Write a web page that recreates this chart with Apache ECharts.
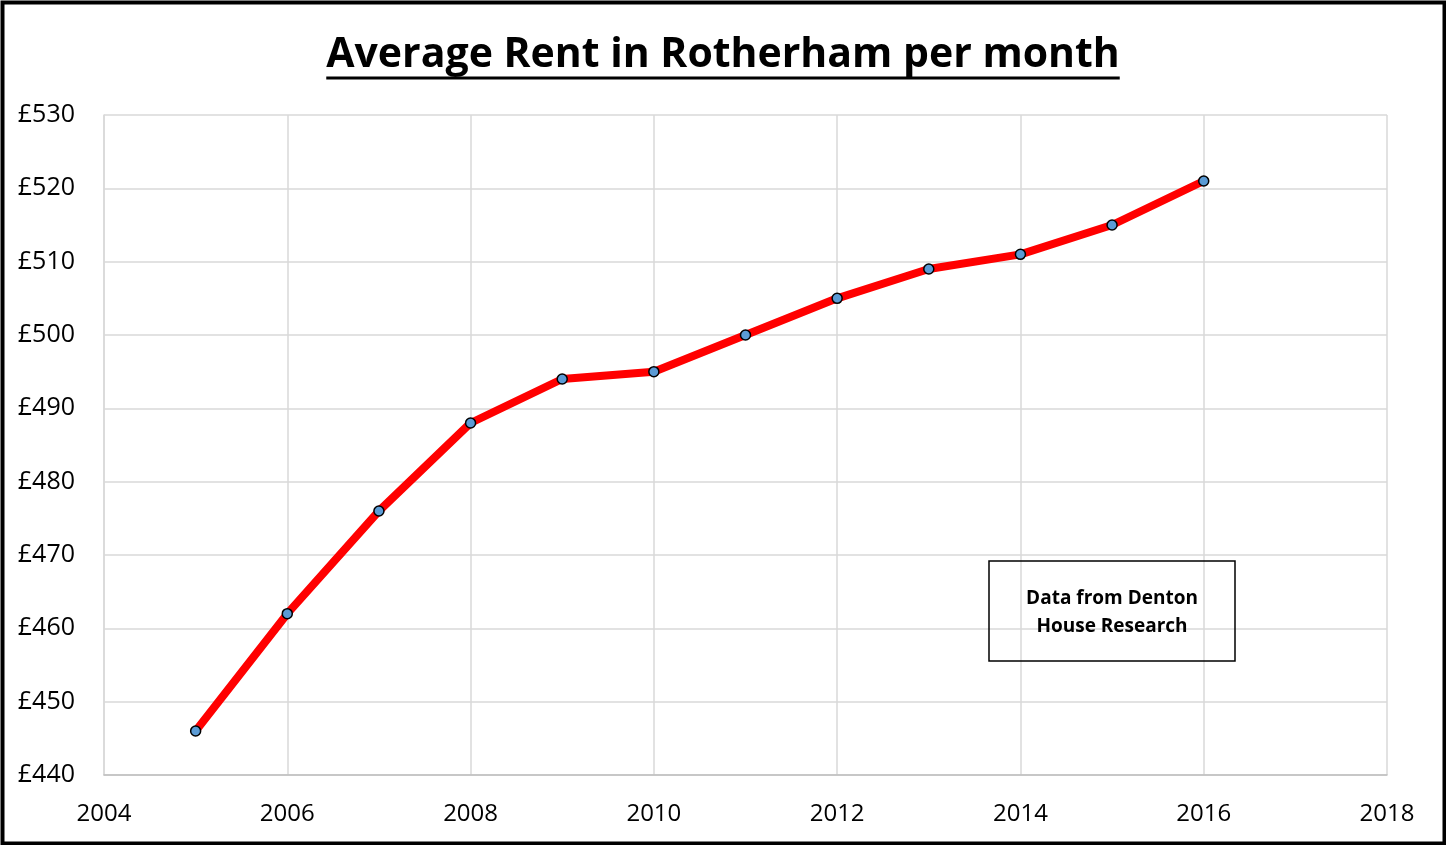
<!DOCTYPE html>
<html>
<head>
<meta charset="utf-8">
<script src="https://cdn.jsdelivr.net/npm/echarts@6/dist/echarts.min.js"></script>
<style>
  html, body { margin: 0; padding: 0; background: #fff; }
  #chart { width: 1446px; height: 845px; }
</style>
</head>
<body>
<div id="chart"></div>
<script>
var years = [2005, 2006, 2007, 2008, 2009, 2010, 2011, 2012, 2013, 2014, 2015, 2016];
var rent = [446, 462, 476, 488, 494, 495, 500, 505, 509, 511, 515, 521];
var titleText = 'Average Rent in Rotherham per month';
var noteLines = ['Data from Denton', 'House Research'];

var FONT = '"Open Sans", "Noto Sans", sans-serif';

// measure title so the underline fits it
var ctx = document.createElement('canvas').getContext('2d');
ctx.font = 'bold 41px "Open Sans"';
var titleW = ctx.measureText(titleText).width;

var chart = echarts.init(document.getElementById('chart'));

var option = {
    backgroundColor: '#ffffff',
    animation: false,
    grid: {
        left: 104,
        right: 59,
        top: 115,
        bottom: 70
    },
    xAxis: {
        type: 'value',
        min: 2004,
        max: 2018,
        interval: 2,
        axisLine: { show: true, lineStyle: { color: '#bfbfbf', width: 1.5 } },
        axisTick: { show: false },
        splitLine: { show: true, lineStyle: { color: '#d9d9d9', width: 1.5 } },
        axisLabel: {
            color: '#000',
            fontFamily: FONT,
            fontSize: 24,
            margin: 27,
            formatter: function (v) { return String(v); }
        }
    },
    yAxis: {
        type: 'value',
        min: 440,
        max: 530,
        interval: 10,
        axisLine: { show: true, lineStyle: { color: '#d9d9d9', width: 1.5 } },
        axisTick: { show: false },
        splitLine: { show: true, lineStyle: { color: '#d9d9d9', width: 1.5 } },
        axisLabel: {
            color: '#000',
            fontFamily: FONT,
            fontSize: 25,
            margin: 29,
            formatter: function (v) { return '£' + v; }
        }
    },
    series: [
        {
            type: 'line',
            data: years.map(function (y, i) { return [y, rent[i]]; }),
            lineStyle: { color: '#ff0000', width: 8 },
            symbol: 'circle',
            symbolSize: 10,
            itemStyle: { color: '#5b9bd5', borderColor: '#000', borderWidth: 1.5 },
            z: 3
        }
    ],
    graphic: [
        {
            type: 'rect',
            left: 0, top: 0,
            shape: { x: 2, y: 2, width: 1442, height: 841 },
            style: { fill: 'none', stroke: '#000', lineWidth: 4 },
            z: 100
        },
        {
            type: 'text',
            x: 723, y: 55,
            style: {
                text: titleText,
                fill: '#000',
                font: 'bold 41px ' + FONT,
                textAlign: 'center',
                textVerticalAlign: 'middle'
            }
        },
        {
            type: 'line',
            shape: { x1: 723 - titleW / 2, y1: 78, x2: 723 + titleW / 2, y2: 78 },
            style: { stroke: '#000', lineWidth: 3 }
        },
        {
            type: 'rect',
            shape: { x: 989, y: 561, width: 246, height: 100 },
            style: { fill: 'none', stroke: '#000', lineWidth: 1.5 },
            z: 50
        },
        {
            type: 'text',
            x: 1112, y: 599,
            style: {
                text: noteLines[0],
                fill: '#000',
                font: 'bold 19px ' + FONT,
                textAlign: 'center',
                textVerticalAlign: 'middle'
            },
            z: 50
        },
        {
            type: 'text',
            x: 1112, y: 627,
            style: {
                text: noteLines[1],
                fill: '#000',
                font: 'bold 19px ' + FONT,
                textAlign: 'center',
                textVerticalAlign: 'middle'
            },
            z: 50
        }
    ]
};

chart.setOption(option);
window.onresize = chart.resize;
</script>
</body>
</html>
